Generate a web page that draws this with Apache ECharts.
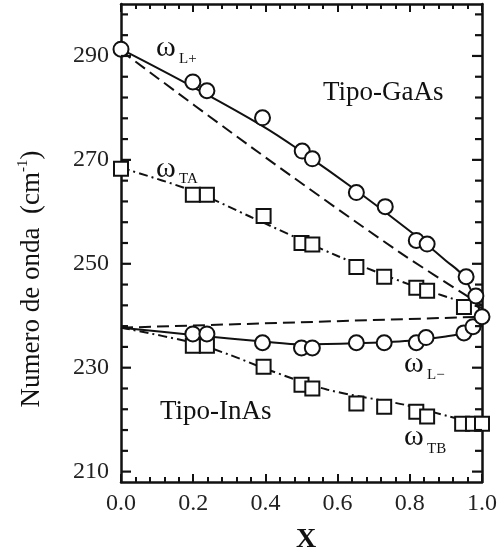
<!DOCTYPE html>
<html>
<head>
<meta charset="utf-8">
<script src="https://cdn.jsdelivr.net/npm/echarts@6/dist/echarts.min.js"></script>
<style>
html,body{margin:0;padding:0;background:#fff;}
#c{width:500px;height:553px;}
</style>
</head>
<body>
<div id="c"></div>
<script>
// ---- data ----
const xTickLabels = [0.0, 0.2, 0.4, 0.6, 0.8, 1.0];
const yTickLabels = [210, 230, 250, 270, 290];

// measured points: omega L+ (circles, upper branch)
const xLplus = [0, 0.199, 0.238, 0.392, 0.502, 0.530, 0.652, 0.732, 0.818, 0.848, 0.956, 0.983, 1.0];
const yLplus = [291.3, 285.0, 283.3, 278.1, 271.7, 270.2, 263.7, 261.0, 254.5, 253.8, 247.5, 243.8, 239.8];
// omega TA (squares, upper)
const xTA = [0, 0.199, 0.238, 0.395, 0.500, 0.530, 0.652, 0.729, 0.818, 0.848, 0.950];
const yTA = [268.3, 263.3, 263.3, 259.2, 254.0, 253.7, 249.4, 247.5, 245.4, 244.8, 241.7];
// omega L- (circles, lower branch)
const xLminus = [0.199, 0.238, 0.392, 0.500, 0.530, 0.652, 0.729, 0.818, 0.845, 0.950, 0.975];
const yLminus = [236.5, 236.5, 234.8, 233.8, 233.8, 234.8, 234.8, 234.8, 235.8, 236.7, 237.9];
// omega TB (squares, lower)
const xTB = [0.199, 0.238, 0.395, 0.500, 0.530, 0.652, 0.729, 0.818, 0.848, 0.945, 0.975, 1.0];
const yTB = [234.2, 234.2, 230.2, 226.7, 226.0, 223.1, 222.5, 221.5, 220.6, 219.2, 219.2, 219.2];

// curves
const fitLplusX = [0, 0.2, 0.39, 0.5, 0.65, 0.8, 0.9, 0.95, 1.0];
const fitLplusY = [291.3, 284.0, 276.6, 271.6, 264.2, 256.3, 250.6, 247.4, 239.8];
const dashLplusX = [0, 0.36, 0.77, 1.0];
const dashLplusY = [291.0, 272.5, 252.3, 242.0];
const fitTAX = [0, 0.2, 0.36, 0.6, 0.8, 1.0];
const fitTAY = [268.5, 264.0, 259.0, 251.5, 246.0, 241.5];
const fitLminusX = [0, 0.2, 0.4, 0.5, 0.65, 0.8, 0.9, 0.95, 1.0];
const fitLminusY = [237.7, 236.3, 235.0, 234.5, 234.7, 235.2, 236.0, 236.8, 239.8];
const fitTBX = [0, 0.2, 0.3, 0.4, 0.57, 0.79, 0.91, 1.0];
const fitTBY = [237.7, 234.8, 232.5, 229.8, 225.8, 222.8, 220.6, 219.3];
const flatDashX = [0, 1.0];
const flatDashY = [237.7, 239.8];

// ---- build ----
const zip = (a, b) => a.map((v, i) => [v, b[i]]);
// y-axis tick marks (major every 20, minor every 4), drawn on both frame sides
const yTickMarks = [];
for (let v = 210; v <= 298; v += 4) yTickMarks.push([v, (v - 210) % 20 === 0 ? 1 : 0]);

const FONT = "'Liberation Serif', 'Times New Roman', serif";
const BLACK = '#111';

const chart = echarts.init(document.getElementById('c'), null, {renderer: 'canvas'});

function yAx(pos, labels) {
  return {
    type: 'value', min: 208, max: 300, position: pos, offset: 0,
    axisLine: {show: true, onZero: false, lineStyle: {color: BLACK, width: 2.5}},
    axisTick: {show: false},
    axisLabel: labels ? {show: true, customValues: yTickLabels, fontFamily: FONT, fontSize: 24, color: '#222', margin: 12}
                      : {show: false},
    splitLine: {show: false}
  };
}
function xAx(pos, labels) {
  return {
    type: 'value', min: 0, max: 1, interval: 0.2, position: pos,
    axisLine: {show: true, onZero: false, lineStyle: {color: BLACK, width: 2.5}},
    axisTick: {show: true, inside: true, length: 8, lineStyle: {color: BLACK, width: 2}},
    minorTick: {show: true, splitNumber: 5, length: 5, lineStyle: {color: BLACK, width: 2}},
    axisLabel: labels ? {show: true, fontFamily: FONT, fontSize: 24, color: '#222', margin: 10,
                         formatter: v => v.toFixed(1)} : {show: false},
    splitLine: {show: false}, minorSplitLine: {show: false}
  };
}

function lineS(data, type, smooth) {
  return {type: 'line', data, symbol: 'none', smooth: smooth, z: 2, silent: true,
    lineStyle: {color: BLACK, width: 2, type: type}};
}
function markS(data, sym, size) {
  return {type: 'scatter', data, symbol: sym, symbolSize: size, z: 5, silent: true,
    itemStyle: {color: '#fff', borderColor: BLACK, borderWidth: 2, opacity: 1}};
}

const tickSeries = {
  type: 'custom', data: yTickMarks, z: 6, silent: true, clip: false,
  renderItem: function (params, api) {
    const v = api.value(0), major = api.value(1);
    const len = major ? 10 : 7;
    const pL = api.coord([0, v]);
    const pR = api.coord([1, v]);
    const st = {stroke: BLACK, lineWidth: 2.2};
    return {type: 'group', children: [
      {type: 'line', shape: {x1: pL[0], y1: pL[1], x2: pL[0] + len, y2: pL[1]}, style: st},
      {type: 'line', shape: {x1: pR[0] - len, y1: pR[1], x2: pR[0], y2: pR[1]}, style: st}
    ]};
  }
};

const txt = (x, y, t, size) => ({
  type: 'text', x, y, z: 10,
  style: {text: t, fontFamily: FONT, fontSize: size, fill: '#111', align: 'left', verticalAlign: 'middle'}
});

chart.setOption({
  backgroundColor: '#fff',
  animation: false,
  grid: {left: 121, right: 17, top: 4, bottom: 71, containLabel: false},
  xAxis: [xAx('bottom', true), xAx('top', false)],
  yAxis: [yAx('left', true), yAx('right', false)],
  series: [
    lineS(zip(fitLplusX, fitLplusY), 'solid', 0.4),
    lineS(zip(dashLplusX, dashLplusY), [12, 6], 0.3),
    lineS(zip(fitTAX, fitTAY), [9, 4, 2, 4], 0.3),
    lineS(zip(fitLminusX, fitLminusY), 'solid', 0.3),
    lineS(zip(fitTBX, fitTBY), [9, 4, 2, 4], 0.3),
    lineS(zip(flatDashX, flatDashY), [12, 6], false),
    tickSeries,
    markS(zip(xTA, yTA), 'rect', 14),
    markS(zip(xTB, yTB), 'rect', 14),
    markS(zip(xLminus, yLminus), 'circle', 15),
    markS(zip(xLplus, yLplus), 'circle', 15)
  ],
  graphic: [
    txt(323, 93, 'Tipo-GaAs', 27),
    txt(160, 412, 'Tipo-InAs', 27),
    txt(156, 48, 'ω', 30), txt(179, 59, 'L+', 15),
    txt(156, 169, 'ω', 30), txt(179, 179, 'TA', 15),
    txt(404, 364, 'ω', 30), txt(427, 375, 'L−', 15),
    txt(404, 437, 'ω', 30), txt(427, 449, 'TB', 15),
    {type: 'text', x: 306, y: 540, z: 10,
     style: {text: 'X', fontFamily: FONT, fontSize: 28, fontWeight: 'bold', fill: '#111', align: 'center', verticalAlign: 'middle'}},
    {type: 'text', x: 32, y: 279, rotation: Math.PI / 2, z: 10,
     style: {text: '{n|Numero de onda  (cm}{s|-1}{n|)}', align: 'center', verticalAlign: 'middle', fill: '#111',
       rich: {n: {fontFamily: FONT, fontSize: 27, lineHeight: 32, verticalAlign: 'middle', fill: '#111'},
              s: {fontFamily: FONT, fontSize: 15, lineHeight: 15, verticalAlign: 'top', fill: '#111'}}}}
  ]
});
</script>
</body>
</html>
